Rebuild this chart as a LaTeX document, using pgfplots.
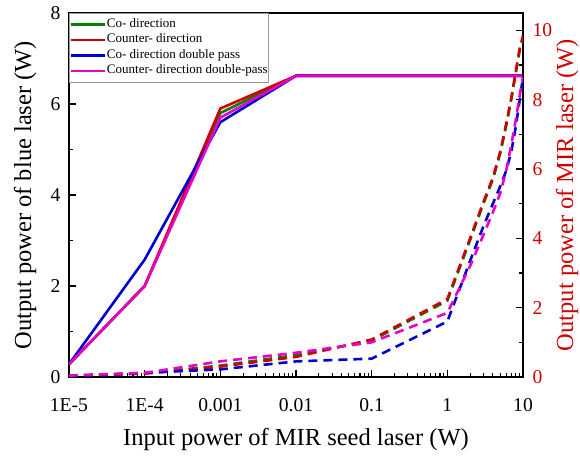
\documentclass[border=0pt]{standalone}
\usepackage{fontspec}
\setmainfont{Liberation Serif}
\usepackage{pgfplots}
\pgfplotsset{compat=1.18}
\definecolor{cgreen}{RGB}{0,130,0}
\definecolor{cred}{RGB}{208,0,0}
\definecolor{cblue}{RGB}{0,0,210}
\definecolor{cmag}{RGB}{232,0,200}
\begin{document}
\begin{tikzpicture}
\useasboundingbox (-69bp,-79bp) rectangle (511bp,377bp);
\begin{axis}[
  at={(0,0)}, anchor=south west,
  scale only axis, width=454bp, height=364bp,
  xmode=log, xmin=1e-5, xmax=10,
  tick align=inside,
  major tick length=7bp, minor tick length=4bp,
  every tick/.style={black, line width=1.2bp},
  tick label style={font=\fontsize{19.6bp}{23bp}\selectfont},
  /pgf/number format/assume math mode=true,
  label style={font=\fontsize{24.5bp}{28bp}\selectfont},
  axis line style={line width=2bp},
  ymin=0, ymax=8,
  xtick={1e-5,1e-4,1e-3,1e-2,1e-1,1,10},
  xticklabels={1E-5,1E-4,0.001,0.01,0.1,1,10},
  minor xtick={2e-5,3e-5,4e-5,5e-5,6e-5,7e-5,8e-5,9e-5,
               2e-4,3e-4,4e-4,5e-4,6e-4,7e-4,8e-4,9e-4,
               2e-3,3e-3,4e-3,5e-3,6e-3,7e-3,8e-3,9e-3,
               2e-2,3e-2,4e-2,5e-2,6e-2,7e-2,8e-2,9e-2,
               0.2,0.3,0.4,0.5,0.6,0.7,0.8,0.9,
               2,3,4,5,6,7,8,9},
  ytick={0,2,4,6,8}, minor ytick={1,3,5,7},
  xtick pos=bottom, ytick pos=left,
  xticklabel style={yshift=-18bp},
  yticklabel style={xshift=-5bp},
  xlabel={Input power of MIR seed laser (W)},
  ylabel={Output power of blue laser (W)},
  xlabel style={at={(axis description cs:0.5,0)}, anchor=center, yshift=-62bp},
  ylabel style={at={(axis description cs:-0.0969,0.5)}, anchor=center},
  legend style={at={(axis description cs:0,1)}, anchor=north west,
    draw=gray!80, line width=0.8bp, inner xsep=0bp, inner ysep=3.5bp,
    font=\fontsize{13bp}{15bp}\selectfont,
    nodes={inner sep=1bp, text height=9.5bp, text depth=3.5bp},
    row sep=0.5bp},
  legend cell align=left,
  legend image code/.code={\draw[#1] (-1bp,0bp) -- (33bp,0bp);},
]
\addplot[cgreen, line width=2.6bp] coordinates {(1e-5,0.28)(1e-4,2.0)(1e-3,5.8)(1e-2,6.62)(1e-1,6.62)(1,6.62)(10,6.62)};
\addlegendentry{Co- direction}
\addplot[cred, line width=2.6bp] coordinates {(1e-5,0.28)(1e-4,2.0)(1e-3,5.9)(1e-2,6.62)(1e-1,6.62)(1,6.62)(10,6.62)};
\addlegendentry{Counter- direction}
\addplot[cblue, line width=2.6bp] coordinates {(1e-5,0.28)(1e-4,2.58)(1e-3,5.6)(1e-2,6.62)(1e-1,6.62)(1,6.62)(10,6.62)};
\addlegendentry{Co- direction double pass}
\addplot[cmag, line width=2.6bp] coordinates {(1e-5,0.28)(1e-4,2.0)(1e-3,5.7)(1e-2,6.62)(1e-1,6.62)(1,6.62)(10,6.62)};
\addlegendentry{Counter- direction double-pass}
\end{axis}
\begin{axis}[
  at={(0,0)}, anchor=south west,
  scale only axis, width=454bp, height=364bp,
  xmode=log, xmin=1e-5, xmax=10,
  tick align=inside,
  major tick length=7bp, minor tick length=4bp,
  every tick/.style={black, line width=1.2bp},
  tick label style={font=\fontsize{19.6bp}{23bp}\selectfont},
  /pgf/number format/assume math mode=true,
  label style={font=\fontsize{24.5bp}{28bp}\selectfont},
  axis line style={line width=2bp},
  ymin=0, ymax=10.5,
  axis x line=none, axis y line*=right,
  y axis line style={-},
  ytick={0,2,4,6,8,10}, minor ytick={1,3,5,7,9},
  yticklabel style={cred, xshift=6bp},
  ylabel={Output power of MIR laser (W)},
  ylabel style={cred, at={(axis description cs:1.0969,0.5)}, anchor=center},
]
\addplot[cgreen, line width=2.6bp, dash pattern=on 9bp off 6bp] coordinates {(1e-5,0.04)(1e-4,0.1)(1e-3,0.33)(1e-2,0.63)(0.1,1.05)(1,2.2)(2,3.95)(3,5.0)(4,5.7)(5,6.45)(6,7.25)(7,8.0)(8,8.75)(9,9.4)(10,9.8)};
\addplot[cred, line width=2.6bp, dash pattern=on 9bp off 6bp] coordinates {(1e-5,0.04)(1e-4,0.1)(1e-3,0.3)(1e-2,0.58)(0.1,1.08)(1,2.25)(2,4.0)(3,5.05)(4,5.75)(5,6.5)(6,7.3)(7,8.05)(8,8.8)(9,9.45)(10,9.85)};
\addplot[cblue, line width=2.6bp, dash pattern=on 9bp off 6bp] coordinates {(1e-5,0.02)(1e-4,0.12)(1e-3,0.22)(1e-2,0.45)(0.1,0.53)(1,1.6)(2,3.35)(3,4.35)(4,5.0)(5,5.5)(6,5.95)(7,6.5)(8,7.2)(9,7.95)(10,8.66)};
\addplot[cmag, line width=2.6bp, dash pattern=on 9bp off 6bp] coordinates {(1e-5,0.04)(1e-4,0.12)(1e-3,0.45)(1e-2,0.7)(0.1,1.0)(1,1.85)(2,3.2)(3,4.1)(4,4.75)(5,5.3)(6,5.95)(7,6.7)(8,7.4)(9,8.1)(10,8.66)};
\end{axis}
\end{tikzpicture}
\end{document}
